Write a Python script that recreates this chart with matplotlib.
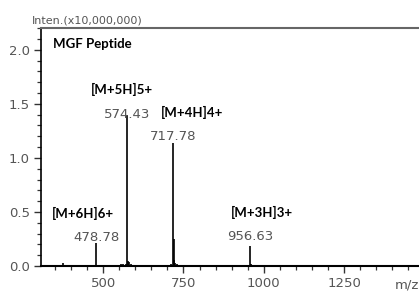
import matplotlib
matplotlib.use("Agg")
import matplotlib.pyplot as plt
from matplotlib.ticker import MultipleLocator

# Peak list (m/z, intensity in units of 10,000,000)
mz = [376, 478.78, 555, 563, 570, 574.43, 578, 582, 586, 590,
      710, 717.78, 720, 722, 725, 730, 740, 956.63, 960, 965]
inten = [0.03, 0.21, 0.015, 0.02, 0.02, 1.40, 0.05, 0.04, 0.02, 0.01,
         0.015, 1.14, 0.25, 0.06, 0.03, 0.015, 0.01, 0.19, 0.02, 0.01]

ion_labels = ["[M+6H]6+", "[M+5H]5+", "[M+4H]4+", "[M+3H]3+"]
ion_mz = [478.78, 574.43, 717.78, 956.63]
ion_int = [0.21, 1.40, 1.14, 0.19]
# annotation offsets: tag x shift (m/z), number y shift, tag y shift
tag_dx = [-41, -15, 60, 38]
num_dy = [0.05, 0.0, 0.06, 0.08]
tag_dy = [0.28, 0.23, 0.28, 0.31]

xticks = [500, 750, 1000, 1250]
yticks = [0.0, 0.5, 1.0, 1.5, 2.0]

gray = "#555555"

fig = plt.figure(figsize=(4.19, 2.99), dpi=100)
ax = fig.add_axes([0.098, 0.11, 0.902, 0.796])

ax.vlines(mz, 0, inten, color="black", lw=1.2)
ax.axhline(0, color="black", lw=1.8)

ax.set_xlim(307, 1483)
ax.set_ylim(0, 2.2)
ax.set_xticks(xticks)
ax.set_yticks(yticks)
ax.xaxis.set_minor_locator(MultipleLocator(50))
ax.yaxis.set_minor_locator(MultipleLocator(0.1))
ax.tick_params(which="major", length=5, width=1, color="#333333",
               labelsize=9.5, labelcolor=gray, pad=3)
ax.tick_params(which="minor", length=3, width=0.9, color="#333333")
ax.set_yticklabels([f"{v:.1f}" for v in yticks])

ax.spines["right"].set_visible(False)
ax.spines["top"].set_color("#666666")
ax.spines["top"].set_linewidth(1.5)
ax.spines["left"].set_linewidth(1.2)
ax.spines["bottom"].set_linewidth(1.5)

fig.text(0.076, 0.933, "Inten.(x10,000,000)", fontsize=8, color=gray,
         ha="left", va="center")
fig.text(0.972, 0.047, "m/z", fontsize=9.5, color=gray, ha="center", va="center")

ax.text(345, 2.05, "MGF Peptide", fontsize=9.5, fontweight="bold",
        family="Lato", ha="left", va="center")

for lab, x, y, dx, ndy, tdy in zip(ion_labels, ion_mz, ion_int,
                                   tag_dx, num_dy, tag_dy):
    ax.text(x, y + ndy, f"{x:.2f}", fontsize=9.5, color=gray,
            ha="center", va="center")
    ax.text(x + dx, y + tdy, lab, fontsize=9.5, fontweight="bold",
            family="Lato", ha="center", va="center")

fig.savefig("out.png", dpi=100)
